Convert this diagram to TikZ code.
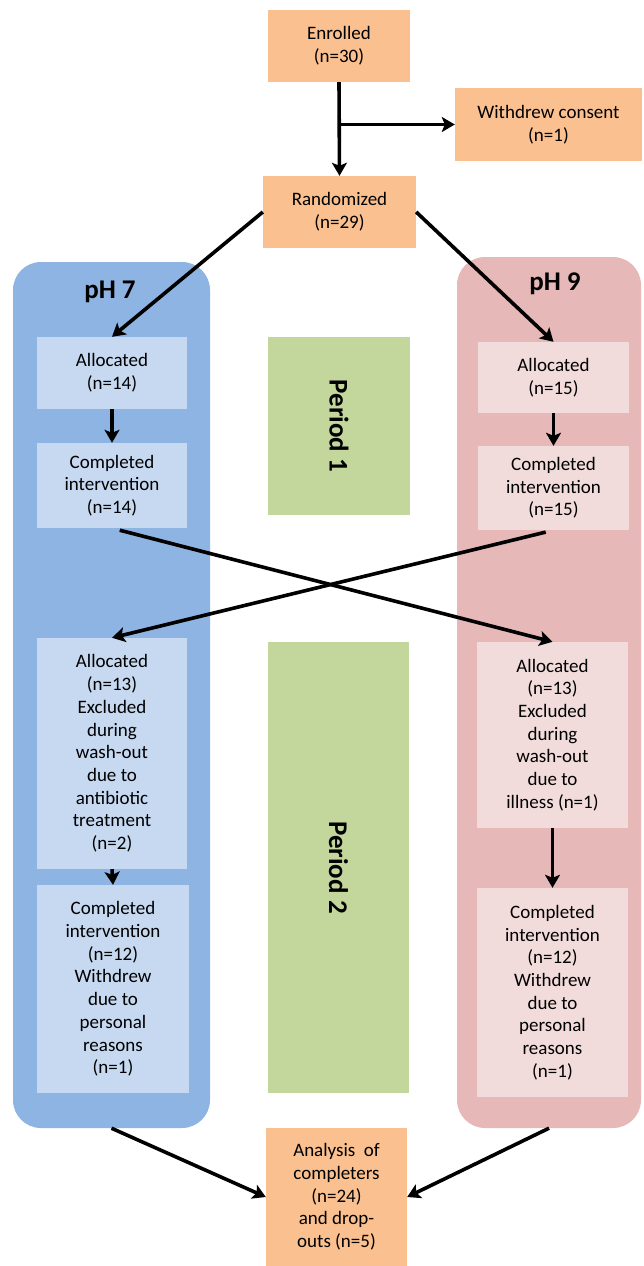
\documentclass[tikz,border=0pt]{standalone}
\usepackage{fontspec}
\setmainfont{Carlito}
\usetikzlibrary{arrows.meta}
\definecolor{cOr}{HTML}{FAC090}
\definecolor{cBlueD}{HTML}{8DB4E2}
\definecolor{cBlueL}{HTML}{C6D9F1}
\definecolor{cPinkD}{HTML}{E6B9B8}
\definecolor{cPinkL}{HTML}{F2DCDB}
\definecolor{cGreen}{HTML}{C3D69B}
\begin{document}
\begin{tikzpicture}[x=1pt,y=-1pt,
  basebox/.style={draw=none, inner sep=0pt, align=center, font=\fontsize{19}{22.7}\selectfont},
  orangebox/.style={basebox, fill=cOr},
  bluebox/.style={basebox, fill=cBlueL},
  pinkbox/.style={basebox, fill=cPinkL},
  greenbox/.style={basebox, fill=cGreen},
  panel/.style={draw=none, rounded corners=28pt, inner sep=0pt},
  headlbl/.style={inner sep=0pt, font=\fontsize{27}{32}\selectfont\bfseries},
  periodlbl/.style={inner sep=0pt, rotate=-90, font=\fontsize{27}{32}\selectfont\bfseries},
  arr/.style={line width=3.6pt, -{Stealth[length=13pt,width=15pt,inset=3pt]}}
]
\useasboundingbox (0,0) rectangle (643,1266);
\fill[white] (0,0) rectangle (643,1266);

% panels
\node[panel, fill=cBlueD, minimum width=197pt, minimum height=866pt] (panL) at (111.5,695) {};
\node[panel, fill=cPinkD, minimum width=184pt, minimum height=871pt] (panR) at (549,692.5) {};
\node[headlbl] (ph7) at (110,292) {pH 7};
\node[headlbl] (ph9) at (555,284) {pH 9};

% top boxes
\node[orangebox, minimum width=142pt, minimum height=72pt] (enr) at (339,46) {Enrolled\\(n=30)};
\node[orangebox, minimum width=187pt, minimum height=73pt] (wd) at (548.5,124.5) {Withdrew consent\\(n=1)};
\node[orangebox, minimum width=153pt, minimum height=72pt] (rnd) at (339.5,212) {Randomized\\(n=29)};

% period boxes
\node[greenbox, minimum width=142pt, minimum height=178pt] (p1) at (339,426) {};
\node[periodlbl] (p1t) at (p1) {Period 1};
\node[greenbox, minimum width=141pt, minimum height=451pt] (p2) at (338.5,867.5) {};
\node[periodlbl] (p2t) at (p2) {Period 2};

% left column
\node[bluebox, minimum width=150pt, minimum height=72pt] (a14) at (112,373) {Allocated\\(n=14)};
\node[bluebox, minimum width=150pt, minimum height=85pt] (c14) at (112,485.5) {Completed\\intervention\\(n=14)};
\node[bluebox, minimum width=150pt, minimum height=231pt] (a13L) at (112,753.5) {Allocated\\(n=13)\\Excluded\\during\\wash-out\\due to\\antibiotic\\treatment\\(n=2)};
\node[bluebox, minimum width=152pt, minimum height=208pt] (c12L) at (113,989) {Completed\\intervention\\(n=12)\\Withdrew\\due to\\personal\\reasons\\(n=1)};

% right column
\node[pinkbox, minimum width=151pt, minimum height=71pt] (a15) at (553.5,377.5) {Allocated\\(n=15)};
\node[pinkbox, minimum width=151pt, minimum height=84pt] (c15) at (553.5,488) {Completed\\intervention\\(n=15)};
\node[pinkbox, minimum width=151pt, minimum height=186pt] (a13R) at (552.5,735) {Allocated\\(n=13)\\Excluded\\during\\wash-out\\due to\\illness (n=1)};
\node[pinkbox, minimum width=151pt, minimum height=209pt] (c12R) at (552.5,992.5) {Completed\\intervention\\(n=12)\\Withdrew\\due to\\personal\\reasons\\(n=1)};

% analysis
\node[orangebox, minimum width=141pt, minimum height=138pt] (ana) at (336.5,1197) {Analysis\ \ of\\completers\\(n=24)\\and drop-\\outs (n=5)};

% connectors
\coordinate (br) at (enr.south |- wd.west);
\draw[arr] (enr.south) -- (rnd.north);
\draw[arr] (br) -- (wd.west);
\draw[arr] (rnd.west) -- (a14.north);
\draw[arr] (rnd.east) -- (a15.north);
\draw[arr] (a14.south) -- (c14.north);
\draw[arr] (a15.south) -- (c15.north);
\draw[arr, shorten <=8pt] (c14.south) -- (a13R.north);
\draw[arr, shorten <=8pt] (c15.south) -- (a13L.north);
\draw[arr] (a13L.south) -- (c12L.north);
\draw[arr] (a13R.south) -- (c12R.north);
\draw[arr] (panL.south) -- (ana.west);
\draw[arr] (panR.south) -- (ana.east);
\end{tikzpicture}
\end{document}
